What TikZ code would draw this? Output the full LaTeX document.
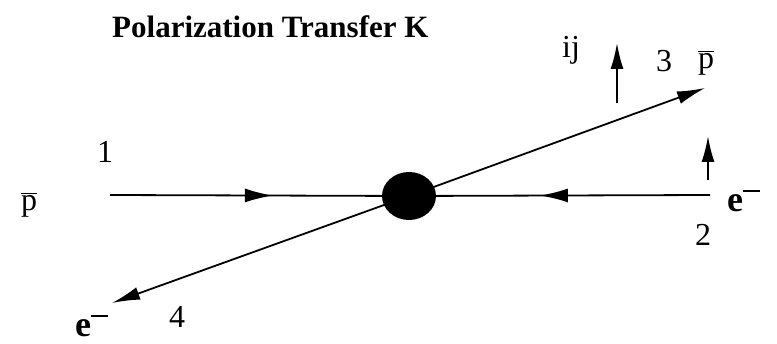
\documentclass[tikz,border=0pt]{standalone}
\usepackage{fontspec}
\setmainfont{Liberation Serif}
\usetikzlibrary{arrows.meta,decorations.markings,shapes.geometric}
\newcommand{\mysupminus}{\raisebox{0.55em}{\rule{17pt}{1.8pt}}}
\tikzset{
  leg/.style={line width=1.8pt},
  bigtip/.style={-{Latex[length=28pt,width=13pt]}},
  smalltip/.style={-{Latex[length=26pt,width=13pt]}, line width=1.8pt},
  midright/.style={decoration={markings,mark=at position #1 with {\arrow{Latex[length=28pt,width=14pt]}}},postaction={decorate}},
  lbl/.style={inner sep=0pt, font=\fontsize{32}{34}\selectfont},
  elbl/.style={inner sep=0pt, font=\bfseries\fontsize{36}{38}\selectfont},
}
\begin{document}
\begin{tikzpicture}[x=1pt,y=-1pt]
\useasboundingbox (0,0) rectangle (777,344);
\node[font=\bfseries\fontsize{31}{34}\selectfont, inner sep=0pt, anchor=base west] (title) at (112,38) {Polarization Transfer K};
\node[fill=black, ellipse, minimum width=54pt, minimum height=48pt, inner sep=0pt, draw=none] (v) at (409,196) {};
\coordinate (a) at (110,195);
\coordinate (b) at (710,195);
\coordinate (c) at (705,88);
\coordinate (d) at (112,303);
\draw[leg, midright=0.545] (a) -- (v.center);
\draw[leg, midright=0.565] (b) -- (v.center);
\draw[leg, bigtip] (v.center) -- (c);
\draw[leg, bigtip] (v.center) -- (d);
\coordinate (s1) at (617,103);
\coordinate (s1t) at (617,43);
\coordinate (s2) at (708,180);
\coordinate (s2t) at (708,136);
\draw[smalltip] (s1) -- (s1t);
\draw[smalltip] (s2) -- (s2t);
\node[lbl] (l1) at (105,152) {1};
\node[lbl] (pb1) at (29,205) {$\overline{\mathrm{p}}$};
\node[lbl] (ij) at (571,50) {ij};
\node[lbl] (l3) at (664,61) {3};
\node[lbl] (pb2) at (706,63) {$\overline{\mathrm{p}}$};
\node[elbl, anchor=base west] (e2) at (727,212) {e\mysupminus};
\node[lbl] (l2) at (703,235) {2};
\node[elbl, anchor=base west] (e4) at (75,337) {e\mysupminus};
\node[lbl] (l4) at (177,317) {4};
\end{tikzpicture}
\end{document}
